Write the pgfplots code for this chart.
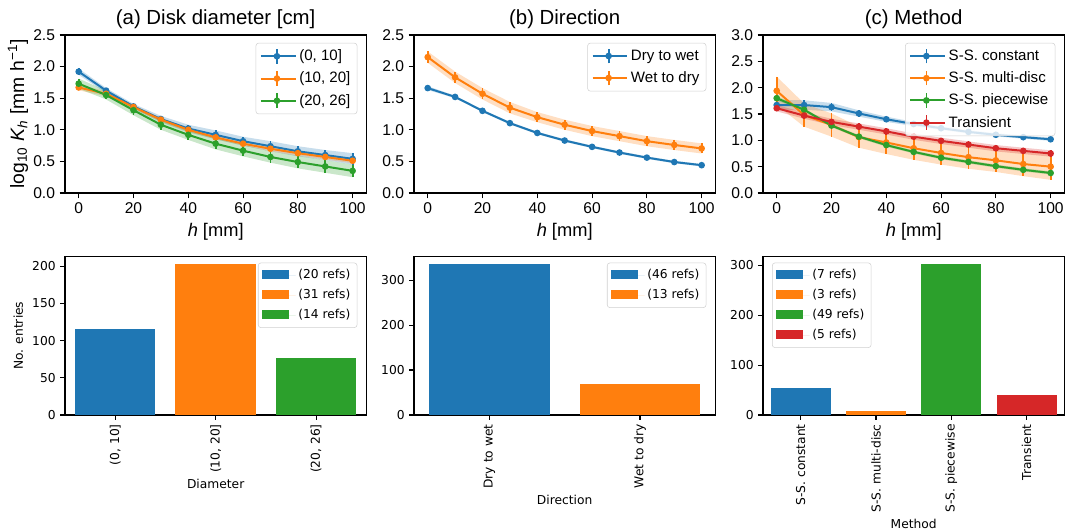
\documentclass[border=0pt]{standalone}
\usepackage{fontspec}
\setmainfont{Liberation Sans}
\newfontfamily\dejavu{DejaVu Sans}
\usepackage{pgfplots}
\pgfplotsset{compat=1.18}
\usepackage{pgfplotstable}
\usepgfplotslibrary{fillbetween}

\definecolor{c0}{RGB}{31,119,180}
\definecolor{c1}{RGB}{255,127,14}
\definecolor{c2}{RGB}{44,160,44}
\definecolor{c3}{RGB}{214,39,40}

\pgfplotstableread{
h   y1   e1    y2   e2    y3   e3
0   1.92 0.05  1.67 0.045 1.73 0.08
10  1.62 0.04  1.57 0.04  1.55 0.07
20  1.37 0.04  1.36 0.03  1.31 0.08
30  1.17 0.05  1.16 0.03  1.08 0.08
40  1.02 0.06  1.00 0.03  0.92 0.08
50  0.92 0.07  0.88 0.03  0.78 0.09
60  0.82 0.07  0.78 0.03  0.67 0.09
70  0.74 0.08  0.70 0.04  0.57 0.09
80  0.66 0.08  0.63 0.04  0.49 0.10
90  0.60 0.08  0.57 0.04  0.42 0.10
100 0.54 0.09  0.51 0.04  0.35 0.10
}\tabA

\pgfplotstableread{
h   y1    e1    y2    e2
0   1.66  0.03  2.15  0.09
10  1.52  0.02  1.83  0.09
20  1.30  0.02  1.57  0.09
30  1.105 0.02  1.35  0.09
40  0.95  0.02  1.20  0.08
50  0.83  0.02  1.08  0.08
60  0.73  0.02  0.98  0.08
70  0.64  0.02  0.90  0.08
80  0.56  0.02  0.82  0.08
90  0.49  0.02  0.76  0.08
100 0.44  0.02  0.705 0.08
}\tabB

\pgfplotstableread{
h   y1    e1    y2    e2    y3    e3    y4    e4
0   1.67  0.10  1.94  0.27  1.80  0.04  1.61  0.06
10  1.67  0.09  1.48  0.22  1.58  0.03  1.47  0.06
20  1.63  0.08  1.29  0.22  1.28  0.03  1.35  0.06
30  1.51  0.06  1.06  0.20  1.07  0.03  1.26  0.06
40  1.40  0.05  0.96  0.22  0.91  0.03  1.17  0.06
50  1.31  0.04  0.85  0.22  0.78  0.03  1.07  0.06
60  1.23  0.03  0.76  0.22  0.67  0.03  0.99  0.06
70  1.16  0.03  0.68  0.22  0.59  0.03  0.92  0.06
80  1.105 0.03  0.62  0.22  0.51  0.03  0.85  0.06
90  1.06  0.03  0.55  0.23  0.44  0.03  0.80  0.06
100 1.02  0.03  0.50  0.25  0.38  0.03  0.75  0.06
}\tabC

% #1 table, #2 y column, #3 error column, #4 colour, #5 unique name
\newcommand{\series}[5]{%
  \addplot[name path=#5u, draw=none, forget plot] table[x=h, y expr=\thisrow{#2}+\thisrow{#3}] {#1};
  \addplot[name path=#5l, draw=none, forget plot] table[x=h, y expr=\thisrow{#2}-\thisrow{#3}] {#1};
  \addplot[fill=#4, fill opacity=0.25, draw=none, forget plot] fill between[of=#5u and #5l];
  \addplot[#4, line width=1.5pt, mark=*, mark size=1.7pt,
    /pgfplots/error bars/y dir=both, /pgfplots/error bars/y explicit,
    /pgfplots/error bars/error mark=none,
    /pgfplots/error bars/error bar style={line width=1.3pt}]
    table[x=h, y=#2, y error=#3] {#1};
}

\pgfplotsset{
  topaxis/.style={
    scale only axis, width=226pt, height=118.5pt, anchor=south west,
    xmin=-5, xmax=105, xtick={0,20,...,100}, ymin=0,
    enlargelimits=false,
    tick align=outside, tick pos=left, major tick length=4pt,
    axis line style={line width=0.8pt}, tick style={line width=0.8pt, black},
    /pgf/number format/assume math mode=true,
    tick label style={font=\fontsize{11.7}{13}\selectfont},
    yticklabel style={/pgf/number format/fixed, /pgf/number format/fixed zerofill, /pgf/number format/precision=1},
    label style={font=\fontsize{13.7}{15}\selectfont},
    ylabel style={font=\fontsize{14.5}{16}\selectfont},
    ylabel shift=-3pt,
    title style={font=\fontsize{15.3}{17}\selectfont, yshift=-5pt},
    xlabel={\textit{h} [mm]},
    legend cell align=left,
    legend style={draw=black!18, rounded corners=2pt, fill=white, fill opacity=0.8, text opacity=1,
      font=\fontsize{11.3}{13}\selectfont, at={(0.97,0.95)}, anchor=north east, row sep=3pt,
      inner sep=3pt},
    legend image code/.code={
      \draw[#1, sharp corners, draw opacity=1, line width=1.5pt] (0pt,0pt) -- (24pt,0pt);
      \draw[#1, sharp corners, draw opacity=1, line width=1.3pt] (12pt,-5.5pt) -- (12pt,5.5pt);
      \fill[#1, fill opacity=1] (12pt,0pt) circle (1.7pt);
      \path (24pt,0pt) -- (26pt,0pt);
    },
  },
  botaxis/.style={
    scale only axis, width=226pt, height=119pt, anchor=south west,
    ybar, bar width=0.8, bar shift=0pt, ymin=0, enlargelimits=false,
    tick align=outside, tick pos=left, major tick length=3.5pt,
    axis line style={line width=0.8pt}, tick style={line width=0.8pt, black},
    /pgf/number format/assume math mode=true,
    tick label style={font=\dejavu\fontsize{9.2}{11}\selectfont},
    xticklabel style={rotate=90, anchor=east},
    label style={font=\dejavu\fontsize{9.2}{11}\selectfont},
    xlabel style={yshift=2pt},
    legend cell align=left,
    legend style={draw=black!18, rounded corners=2pt, fill=white, fill opacity=0.8, text opacity=1,
      font=\dejavu\fontsize{9.2}{11}\selectfont, at={(0.97,0.96)}, anchor=north east, row sep=2.5pt,
      inner sep=3pt},
    legend image code/.code={
      \fill[#1, sharp corners, fill opacity=1] (0pt,-2.5pt) rectangle (20pt,4pt);
      \path (20pt,0pt) -- (25pt,0pt);
    },
  },
}

\begin{document}
\begin{tikzpicture}

% ---------------- top row ----------------
\begin{axis}[topaxis, at={(48.75pt,253.5pt)}, ymax=2.5, ytick={0,0.5,...,2.5},
  title={(a) Disk diameter [cm]},
  ylabel={log\textsubscript{10} \textit{K}\textsubscript{\textit{h}} [mm h\textsuperscript{−1}]}]
\series{\tabA}{y1}{e1}{c0}{aa}
\series{\tabA}{y2}{e2}{c1}{ab}
\series{\tabA}{y3}{e3}{c2}{ac}
\legend{{(0, 10]},{(10, 20]},{(20, 26]}}
\end{axis}

\begin{axis}[topaxis, at={(310.5pt,253.5pt)}, ymax=2.5, ytick={0,0.5,...,2.5},
  title={(b) Direction}]
\series{\tabB}{y1}{e1}{c0}{ba}
\series{\tabB}{y2}{e2}{c1}{bb}
\legend{Dry to wet,Wet to dry}
\end{axis}

\begin{axis}[topaxis, at={(572.25pt,253.5pt)}, ymax=3, ytick={0,0.5,...,3},
  title={(c) Method}]
\series{\tabC}{y1}{e1}{c0}{ca}
\series{\tabC}{y2}{e2}{c1}{cb}
\series{\tabC}{y3}{e3}{c2}{cc}
\series{\tabC}{y4}{e4}{c3}{cd}
\legend{S-S. constant,S-S. multi-disc,S-S. piecewise,Transient}
\end{axis}

% ---------------- bottom row ----------------
\begin{axis}[botaxis, at={(48.75pt,87pt)}, xmin=-0.5, xmax=2.5, ymax=213.2,
  ytick={0,50,...,200}, xtick={0,1,2},
  xticklabels={{(0, 10]},{(10, 20]},{(20, 26]}},
  xlabel={Diameter}, ylabel={No. entries}]
\addplot[fill=c0, draw=none] coordinates {(0,115)};
\addplot[fill=c1, draw=none] coordinates {(1,203)};
\addplot[fill=c2, draw=none] coordinates {(2,77)};
\legend{(20 refs),(31 refs),(14 refs)}
\end{axis}

\begin{axis}[botaxis, at={(310.5pt,87pt)}, xmin=-0.5, xmax=1.5, ymax=352.8,
  ytick={0,100,200,300}, xtick={0,1},
  xticklabels={Dry to wet,Wet to dry},
  xlabel={Direction}]
\addplot[fill=c0, draw=none] coordinates {(0,336)};
\addplot[fill=c1, draw=none] coordinates {(1,68)};
\legend{(46 refs),(13 refs)}
\end{axis}

\begin{axis}[botaxis, at={(572.25pt,87pt)}, xmin=-0.5, xmax=3.5, ymax=318.2,
  ytick={0,100,200,300}, xtick={0,1,2,3},
  xticklabels={S-S. constant,S-S. multi-disc,S-S. piecewise,Transient},
  xlabel={Method},
  legend style={at={(0.03,0.96)}, anchor=north west}]
\addplot[fill=c0, draw=none] coordinates {(0,54)};
\addplot[fill=c1, draw=none] coordinates {(1,9)};
\addplot[fill=c2, draw=none] coordinates {(2,303)};
\addplot[fill=c3, draw=none] coordinates {(3,40)};
\legend{(7 refs),(3 refs),(49 refs),(5 refs)}
\end{axis}

\pgfresetboundingbox
\path[use as bounding box] (0,0) rectangle (800.25pt,398.25pt);
\end{tikzpicture}
\end{document}
